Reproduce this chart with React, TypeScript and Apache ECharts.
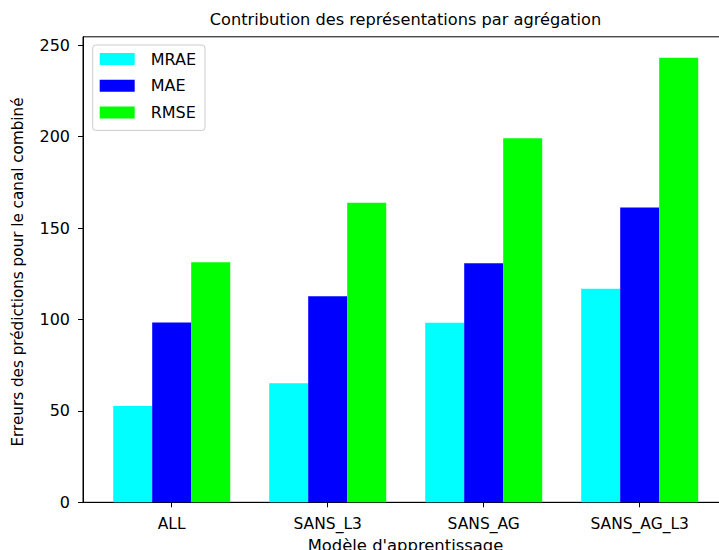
import React, { useEffect, useRef } from "react";
import * as echarts from "echarts";

const categories = ["ALL", "SANS_L3", "SANS_AG", "SANS_AG_L3"];
const seriesNames = ["MRAE", "MAE", "RMSE"];
const mrae = [52.7, 65.1, 98.2, 116.8];
const mae = [98.3, 112.7, 130.7, 161.2];
const rmse = [131.3, 163.9, 199.1, 243.2];
const colors = ["#00ffff", "#0000ff", "#00ff00"];
const yTicks = [0, 50, 100, 150, 200, 250];

const FONT = "DejaVu Sans";

export default function App() {
  const ref = useRef<HTMLDivElement>(null);
  useEffect(() => {
    if (!ref.current) return;
    const chart = echarts.init(ref.current, null, { renderer: "svg" });
    const values = [mrae, mae, rmse];
    chart.setOption({
      animation: false,
      backgroundColor: "#ffffff",
      textStyle: { fontFamily: FONT },
      legend: {
        left: 92.7,
        top: 45,
        orient: "vertical",
        data: seriesNames,
        itemWidth: 35,
        itemHeight: 12,
        itemGap: 10.7,
        icon: "rect",
        padding: [6, 9, 10, 7],
        borderColor: "#cccccc",
        borderWidth: 1,
        borderRadius: 3,
        backgroundColor: "rgba(255,255,255,0.8)",
        textStyle: { fontFamily: FONT, fontSize: 16, lineHeight: 16, color: "#000", padding: [0, 0, 0, 11] },
      },
      grid: {
        left: 83,
        top: 36.8,
        width: 643.5,
        height: 465.5,
        show: true,
        borderColor: "#000",
        borderWidth: 1,
        backgroundColor: "transparent",
      },
      xAxis: {
        type: "value",
        min: -0.5686,
        max: 3.5564,
        splitLine: { show: false },
        axisLine: { show: true, onZero: false, lineStyle: { color: "#000", width: 1 } },
        axisTick: { show: true, length: 5, customValues: [0, 1, 2, 3], lineStyle: { color: "#000" } },
        axisLabel: {
          customValues: [0, 1, 2, 3],
          formatter: (v: number) => categories[Math.round(v)] ?? "",
          margin: 14,
          fontFamily: FONT,
          fontSize: 15.5,
          color: "#000",
        },
      },
      yAxis: {
        type: "value",
        min: 0,
        max: 254.6,
        splitLine: { show: false },
        axisLine: { show: true, onZero: false, lineStyle: { color: "#000", width: 1 } },
        axisTick: { show: true, length: 5, customValues: yTicks, lineStyle: { color: "#000" } },
        axisLabel: {
          customValues: yTicks,
          margin: 13,
          fontFamily: FONT,
          fontSize: 16,
          color: "#000",
        },
      },
      graphic: [
        {
          type: "text",
          x: 405.5,
          y: 19,
          style: {
            text: "Contribution des représentations par agrégation",
            fontFamily: FONT,
            fontSize: 16.2,
            fill: "#000",
            align: "center",
            verticalAlign: "middle",
          },
        },
        {
          type: "text",
          x: 18,
          y: 272,
          rotation: Math.PI / 2,
          style: {
            text: "Erreurs des prédictions pour le canal combiné",
            fontFamily: FONT,
            fontSize: 15.2,
            fill: "#000",
            align: "center",
            verticalAlign: "middle",
          },
        },
        {
          type: "text",
          x: 405.5,
          y: 545,
          style: {
            text: "Modèle d'apprentissage",
            fontFamily: FONT,
            fontSize: 16.4,
            fill: "#000",
            align: "center",
            verticalAlign: "middle",
          },
        },
      ],
      series: seriesNames.map((name, s) => ({
        name,
        type: "bar",
        barWidth: 39,
        barGap: "0%",
        itemStyle: { color: colors[s] },
        data: categories.map((_, i) => [i, values[s][i]]),
      })),
    });
    return () => chart.dispose();
  }, []);
  return (
    <div style={{ position: "absolute", left: 0, top: 0, width: 719, height: 550, overflow: "hidden" }}>
      <div ref={ref} style={{ width: 745, height: 550 }} />
    </div>
  );
}
